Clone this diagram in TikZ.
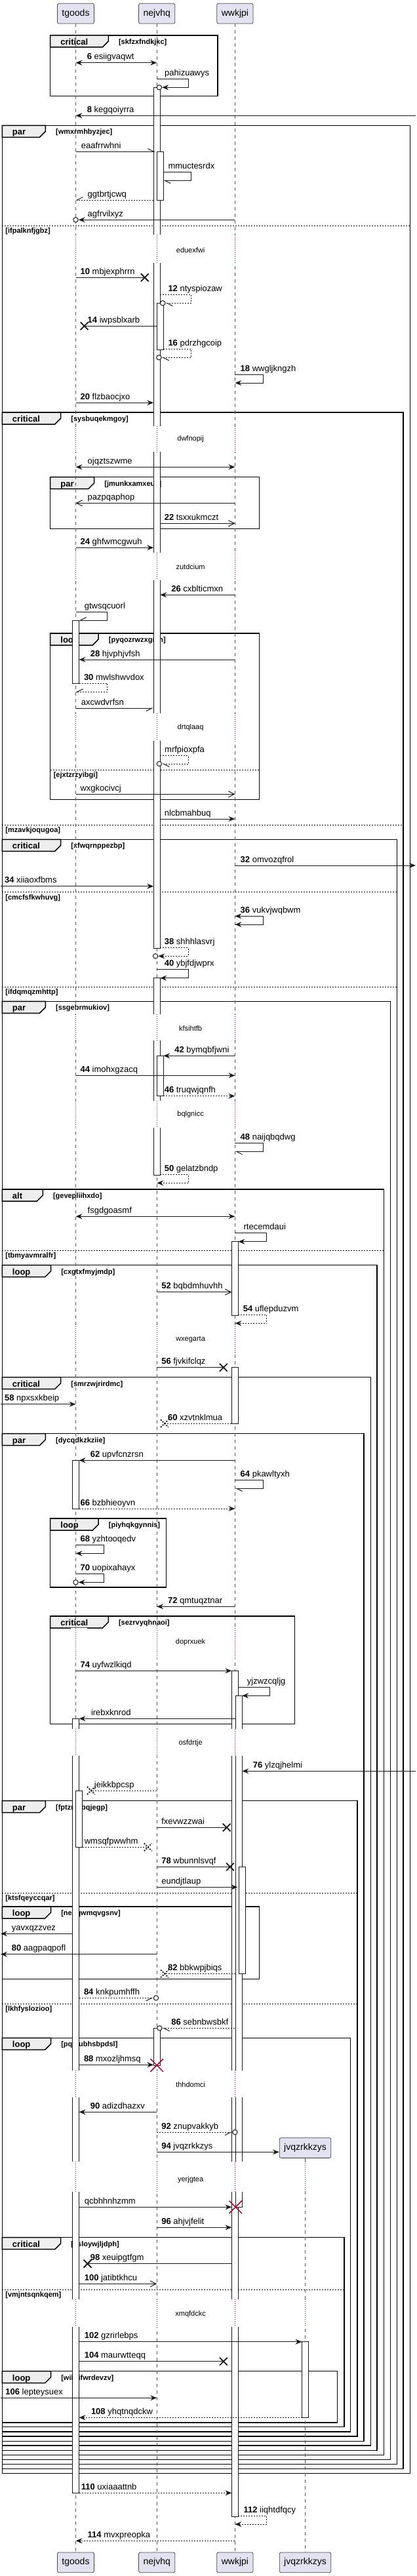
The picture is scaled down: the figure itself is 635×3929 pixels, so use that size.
\documentclass[tikz,border=0pt]{standalone}
\usepackage{fontspec}
\setmainfont{Liberation Sans}
\usetikzlibrary{arrows.meta,shapes.misc}

\definecolor{partfill}{HTML}{E2E2F0}
\definecolor{ink}{HTML}{181818}
\definecolor{tabfill}{HTML}{EEEEEE}
\definecolor{delayred}{HTML}{A80036}

\newcommand{\msgfont}{\fontsize{13}{15}\selectfont}
\newcommand{\partfont}{\fontsize{14}{16}\selectfont}
\newcommand{\condfont}{\fontsize{11}{13}\selectfont\bfseries}
\newcommand{\delayfont}{\fontsize{11}{13}\selectfont}

\tikzset{
  part/.style={draw=ink!80,fill=partfill,rounded corners=2.5pt,line width=0.8pt,minimum height=30.7pt,inner xsep=7pt,font=\partfont},
  life/.style={draw=ink!70,line width=0.6pt,dash pattern=on 5pt off 5pt},
  bar/.style={draw=ink,fill=white,line width=0.8pt},
  grp/.style={draw=black,line width=1.5pt},
  grptab/.style={draw=black,fill=tabfill,line width=1.5pt},
  tablbl/.style={anchor=base west,inner sep=0,font=\fontsize{13}{15}\selectfont\bfseries},
  cond/.style={anchor=base west,inner sep=0,font=\condfont},
  elseline/.style={draw=black,line width=0.8pt,dash pattern=on 2pt off 2pt},
  msg/.style={draw=ink,line width=1pt},
  sync/.style={msg,-{Stealth[length=10pt,width=8pt,inset=3.5pt]}},
  twoway/.style={msg,{Stealth[length=10pt,width=8pt,inset=3.5pt]}-{Stealth[length=10pt,width=8pt,inset=3.5pt]}},
  opena/.style={msg,-{Straight Barb[length=9pt,width=9pt]}},
  halfl/.style={msg,-{Straight Barb[left,length=9pt,width=9pt]}},
  halfr/.style={msg,-{Straight Barb[right,length=9pt,width=9pt]}},
  ret/.style={dash pattern=on 2pt off 2pt},
  lbl/.style={anchor=base west,inner sep=0,font=\msgfont},
  lost/.style={cross out,draw=ink,line width=1.8pt,minimum size=10pt,inner sep=0},
  kill/.style={cross out,draw=delayred,line width=1.5pt,minimum size=18pt,inner sep=0},
  circ/.style={circle,draw=ink,fill=white,line width=1pt,minimum size=7.4pt,inner sep=0},
  delayline/.style={draw=delayred,line width=0.8pt,dash pattern=on 1pt off 2pt},
  delaytxt/.style={font=\delayfont,inner sep=0}
}

\begin{document}
\begin{tikzpicture}[x=1pt,y=-1pt]
\useasboundingbox (0,0) rectangle (635,3929);
% participants
\node[part] (tg) at (115.5,20.7) {tgoods};
\node[part] (nj) at (239.2,20.7) {nejvhq};
\node[part] (ww) at (358.4,20.7) {wwkjpi};
\node[part] (jv) at (465.5,3276) {jvqzrkkzys};
\node[part] (tg2) at (115.5,3908.3) {tgoods};
\node[part] (nj2) at (239.2,3908.3) {nejvhq};
\node[part] (ww2) at (358.4,3908.3) {wwkjpi};
\node[part] (jv2) at (465.5,3908.3) {jvqzrkkzys};
\coordinate (lft) at (1,0);
\coordinate (rgt) at (634,0);

% groups
\draw[grp] (76.7,54) rectangle (331.8,146.7);
\draw[grptab] (76.7,54) -- (165.3,54) -- (165.3,63) -- (156.3,72) -- (76.7,72) -- cycle;
\node[tablbl] (f1a) at (92.2,68.5) {critical};
\node[cond] (f1b) at (180.8,67.5) {[skfzxfndkjkc]};

\draw[grp] (3.3,191.3) rectangle (625.3,3772.7);
\draw[grptab] (3.3,191.3) -- (69.4,191.3) -- (69.4,200.3) -- (60.4,209.3) -- (3.3,209.3) -- cycle;
\node[tablbl] (f2a) at (18.8,205.8) {par};
\node[cond] (f2b) at (84.9,204.8) {[wmxrmhbyzjec]};
\draw[elseline] (3.3,344.3) -- (625.3,344.3);
\node[cond] (f2c) at (8.2,355.8) {[ifpalknfjgbz]};

\draw[grp] (3.3,629) rectangle (615.1,3765.7);
\draw[grptab] (3.3,629) -- (92.7,629) -- (92.7,638) -- (83.7,647) -- (3.3,647) -- cycle;
\node[tablbl] (f3a) at (18.8,643.5) {critical};
\node[cond] (f3b) at (108.2,642.5) {[sysbuqekmgoy]};
\draw[elseline] (3.3,1258) -- (615.1,1258);
\node[cond] (f3c) at (8.2,1269.5) {[mzavkjoqugoa]};

\draw[grp] (76.7,727.7) rectangle (395.5,806.3);
\draw[grptab] (76.7,727.7) -- (143.7,727.7) -- (143.7,736.7) -- (134.7,745.7) -- (76.7,745.7) -- cycle;
\node[tablbl] (f4a) at (92.2,742.2) {par};
\node[cond] (f4b) at (159.2,741.2) {[jmunkxamxeus]};

\draw[grp] (76.7,966) rectangle (395.5,1219.3);
\draw[grptab] (76.7,966) -- (150.2,966) -- (150.2,975) -- (141.2,984) -- (76.7,984) -- cycle;
\node[tablbl] (f5a) at (92.2,980.5) {loop};
\node[cond] (f5b) at (165.7,979.5) {[pyqozrwzxgnm]};
\draw[elseline] (76.7,1174) -- (395.5,1174);
\node[cond] (f5c) at (81.6,1185.5) {[ejxtzrzyibgi]};

\draw[grp] (3.3,1280.3) rectangle (605.3,3758.3);
\draw[grptab] (3.3,1280.3) -- (92.7,1280.3) -- (92.7,1289.3) -- (83.7,1298.3) -- (3.3,1298.3) -- cycle;
\node[tablbl] (f6a) at (18.8,1294.8) {critical};
\node[cond] (f6b) at (108.2,1293.8) {[xfwqrnppezbp]};
\draw[elseline] (3.3,1360.7) -- (605.3,1360.7);
\node[cond] (f6c) at (8.2,1372.2) {[cmcfsfkwhuvg]};
\draw[elseline] (3.3,1505.3) -- (605.3,1505.3);
\node[cond] (f6d) at (8.2,1516.8) {[ifdqmqzmhttp]};

\draw[grp] (3.3,1527.3) rectangle (595.5,3751.3);
\draw[grptab] (3.3,1527.3) -- (69.4,1527.3) -- (69.4,1536.3) -- (60.4,1545.3) -- (3.3,1545.3) -- cycle;
\node[tablbl] (f7a) at (18.8,1541.8) {par};
\node[cond] (f7b) at (84.9,1540.8) {[ssgebrmukiov]};

\draw[grp] (3.3,1814) rectangle (585.7,3744.3);
\draw[grptab] (3.3,1814) -- (65.3,1814) -- (65.3,1823) -- (56.3,1832) -- (3.3,1832) -- cycle;
\node[tablbl] (f8a) at (18.8,1828.5) {alt};
\node[cond] (f8b) at (80.8,1827.5) {[gevepliihxdo]};
\draw[elseline] (3.3,1907.3) -- (585.7,1907.3);
\node[cond] (f8c) at (8.2,1918.8) {[tbmyavmralfr]};

\draw[grp] (3.3,1929.7) rectangle (575.1,3737.3);
\draw[grptab] (3.3,1929.7) -- (77.6,1929.7) -- (77.6,1938.7) -- (68.6,1947.7) -- (3.3,1947.7) -- cycle;
\node[tablbl] (f9a) at (18.8,1944.2) {loop};
\node[cond] (f9b) at (93.1,1943.2) {[cxgtxfmyjmdp]};

\draw[grp] (3.3,2100.7) rectangle (565.3,3730);
\draw[grptab] (3.3,2100.7) -- (92.7,2100.7) -- (92.7,2109.7) -- (83.7,2118.7) -- (3.3,2118.7) -- cycle;
\node[tablbl] (f10a) at (18.8,2115.2) {critical};
\node[cond] (f10b) at (108.2,2114.2) {[smrzwjrirdmc]};

\draw[grp] (3.3,2186.7) rectangle (555.1,3723.3);
\draw[grptab] (3.3,2186.7) -- (69.4,2186.7) -- (69.4,2195.7) -- (60.4,2204.7) -- (3.3,2204.7) -- cycle;
\node[tablbl] (f11a) at (18.8,2201.2) {par};
\node[cond] (f11b) at (84.9,2200.2) {[dycqdkzkziie]};

\draw[grp] (76.7,2316) rectangle (253.5,2421);
\draw[grptab] (76.7,2316) -- (150.2,2316) -- (150.2,2325) -- (141.2,2334) -- (76.7,2334) -- cycle;
\node[tablbl] (f12a) at (92.2,2330.5) {loop};
\node[cond] (f12b) at (165.7,2329.5) {[piyhqkgynnis]};

\draw[grp] (76.7,2465) rectangle (449.4,2629.3);
\draw[grptab] (76.7,2465) -- (165.3,2465) -- (165.3,2474) -- (156.3,2483) -- (76.7,2483) -- cycle;
\node[tablbl] (f13a) at (92.2,2479.5) {critical};
\node[cond] (f13b) at (180.8,2478.5) {[sezrvyqhnaoi]};

\draw[grp] (3.3,2746.7) rectangle (544.9,3716);
\draw[grptab] (3.3,2746.7) -- (69.4,2746.7) -- (69.4,2755.7) -- (60.4,2764.7) -- (3.3,2764.7) -- cycle;
\node[tablbl] (f14a) at (18.8,2761.2) {par};
\node[cond] (f14b) at (84.9,2760.2) {[fptzmybqjegp]};
\draw[elseline] (3.3,2887.3) -- (544.9,2887.3);
\node[cond] (f14c) at (8.2,2898.8) {[ktsfqeyccqar]};
\draw[elseline] (3.3,3056.3) -- (544.9,3056.3);
\node[cond] (f14d) at (8.2,3067.8) {[lkhfyslozioo]};

\draw[grp] (3.3,2908) rectangle (395.5,3018.3);
\draw[grptab] (3.3,2908) -- (77.6,2908) -- (77.6,2917) -- (68.6,2926) -- (3.3,2926) -- cycle;
\node[tablbl] (f15a) at (18.8,2922.5) {loop};
\node[cond] (f15b) at (93.1,2921.5) {[nedqwmqvgsnv]};

\draw[grp] (3.3,3108.3) rectangle (534.7,3709);
\draw[grptab] (3.3,3108.3) -- (77.6,3108.3) -- (77.6,3117.3) -- (68.6,3126.3) -- (3.3,3126.3) -- cycle;
\node[tablbl] (f16a) at (18.8,3122.8) {loop};
\node[cond] (f16b) at (93.1,3121.8) {[pqmubhsbpdsl]};

\draw[grp] (3.3,3412.7) rectangle (524.9,3701.7);
\draw[grptab] (3.3,3412.7) -- (92.7,3412.7) -- (92.7,3421.7) -- (83.7,3430.7) -- (3.3,3430.7) -- cycle;
\node[tablbl] (f17a) at (18.8,3427.2) {critical};
\node[cond] (f17b) at (108.2,3426.2) {[xsloywjljdph]};
\draw[elseline] (3.3,3492.3) -- (524.9,3492.3);
\node[cond] (f17c) at (8.2,3503.8) {[vmjntsqnkqem]};

\draw[grp] (3.3,3616.7) rectangle (514.7,3695);
\draw[grptab] (3.3,3616.7) -- (77.6,3616.7) -- (77.6,3625.7) -- (68.6,3634.7) -- (3.3,3634.7) -- cycle;
\node[tablbl] (f18a) at (18.8,3631.2) {loop};
\node[cond] (f18b) at (93.1,3630.2) {[wihrifwrdevzv]};

% lifelines
\draw[life] (tg) -- (tg2);
\draw[life] (nj) -- (nj2);
\draw[life] (ww) -- (ww2);
\draw[life] (jv) -- (jv2);

% activations
\draw[bar] ([xshift=-5pt]tg |- 0,946) rectangle ([xshift=5pt]tg |- 0,1042.7);
\draw[bar] ([xshift=-5pt]tg |- 0,2227.3) rectangle ([xshift=5pt]tg |- 0,2301);
\draw[bar] ([xshift=-5pt]tg |- 0,2621.3) rectangle ([xshift=5pt]tg |- 0,3802.3);
\draw[bar] (tg |- 0,2731) rectangle ([xshift=10pt]tg |- 0,2817.3);
\draw[bar] ([xshift=-5pt]nj |- 0,133.3) rectangle ([xshift=5pt]nj |- 0,1446.3);
\draw[bar] (nj |- 0,231.3) rectangle ([xshift=10pt]nj |- 0,305);
\draw[bar] (nj |- 0,462.3) rectangle ([xshift=10pt]nj |- 0,533);
\draw[bar] ([xshift=-5pt]nj |- 0,1491.7) rectangle ([xshift=5pt]nj |- 0,1792);
\draw[bar] (nj |- 0,1610.3) rectangle ([xshift=10pt]nj |- 0,1671);
\draw[bar] ([xshift=-5pt]nj |- 0,3093.3) rectangle ([xshift=5pt]nj |- 0,3150);
\draw[bar] ([xshift=-5pt]ww |- 0,1893.7) rectangle ([xshift=5pt]ww |- 0,2006);
\draw[bar] ([xshift=-5pt]ww |- 0,2085.7) rectangle ([xshift=5pt]ww |- 0,2171);
\draw[bar] ([xshift=-5pt]ww |- 0,2548.3) rectangle ([xshift=5pt]ww |- 0,3838.3);
\draw[bar] ([xshift=0.8pt]ww |- 0,2586.3) rectangle ([xshift=10.8pt]ww |- 0,3366.3);
\draw[bar] ([xshift=5.7pt]ww |- 0,2847.3) rectangle ([xshift=15.9pt]ww |- 0,3010.3);
\draw[bar] ([xshift=-5pt]jv |- 0,3571.7) rectangle ([xshift=5pt]jv |- 0,3687.3);

% delays
\foreach \ya/\yb/\yt/\txt [count=\i] in {358/401/381.7/eduexfwi, 650/689.3/669.3/dwfnopij,
    843.3/885/865/zutdcium, 1088.3/1130/1110/drtqlaaq, 1546.7/1586.7/1568.3/kfsihtfb,
    1679.3/1720/1700/bqlgnicc, 2020/2063.3/2043.3/wxegarta, 2483.3/2530/2505/doprxuek,
    2636.7/2678.3/2658.3/osfdrtje, 3158.3/3199.3/3179.3/thhdomci}{
  \foreach \p in {tg,nj,ww}{
    \fill[white] ([xshift=-8pt]\p |- 0,\ya) rectangle ([xshift=17pt]\p |- 0,\yb);
    \draw[delayline] (\p |- 0,\ya) -- (\p |- 0,\yb);
  }
  \node[delaytxt] (d\i) at (290.6,\yt) {\txt};
}
\foreach \ya/\yb/\yt/\txt [count=\i] in {3297/3343.3/3324.3/yerjgtea, 3507.3/3549/3529.3/xmqfdckc}{
  \foreach \p in {tg,nj,ww,jv}{
    \fill[white] ([xshift=-8pt]\p |- 0,\ya) rectangle ([xshift=17pt]\p |- 0,\yb);
    \draw[delayline] (\p |- 0,\ya) -- (\p |- 0,\yb);
  }
  \node[delaytxt] (e\i) at (290.6,\yt) {\txt};
}

% messages
\draw[twoway] (tg |- 0,95.7) -- (nj |- 0,95.7);
\node[lbl] (m6) at (132.7,90.7) {\textbf{6} esiigvaqwt};
\node[circ] (c7) at (242.9,133.3) {};
\draw[sync] (nj |- 0,120.7) -- (287,120.7) |- (c7.east);
\node[lbl] (m7) at (251,115.7) {pahizuawys};
\draw[sync] (rgt |- 0,176.3) -- (tg |- 0,176.3);
\node[lbl] (m8) at (132.7,171.3) {\textbf{8} kegqoiyrra};
\draw[halfl] (tg |- 0,231.3) -- ([xshift=-2.5pt]nj |- 0,231.3);
\node[lbl] (m9a) at (123.7,226.3) {eaafrrwhni};
\draw[halfl] ([xshift=10pt]nj |- 0,262.3) -- (291.8,262.3) |- ([xshift=10pt]nj |- 0,275.3);
\node[lbl] (m9b) at (256.3,257.3) {mmuctesrdx};
\draw[halfr,ret] ([xshift=-5pt]nj |- 0,305) -- (tg |- 0,305);
\node[lbl] (m9c) at (133.5,300) {ggtbrtjcwq};
\node[circ] (c9) at (tg |- 0,335.3) {};
\draw[sync] (ww |- 0,335.3) -- (c9.east);
\node[lbl] (m9d) at (133.5,330.3) {agfrvilxyz};

\draw[msg] (tg |- 0,423.3) -- (220.8,423.3) node[lost] (x10) {};
\node[lbl] (m10) at (122.4,418.3) {\textbf{10} mbjexphrrn};
\node[circ] (c12) at (248.2,462.3) {};
\draw[halfl,ret] ([xshift=5pt]nj |- 0,449.3) -- (291.8,449.3) |- (c12.east);
\node[lbl] (m12) at (256.3,444.3) {\textbf{12} ntyspiozaw};
\draw[msg] (nj |- 0,497.3) -- (128.6,497.3) node[lost] (x14) {};
\node[lbl] (m14) at (133.5,492.3) {\textbf{14} iwpsblxarb};
\node[circ] (c16) at (242.4,545.3) {};
\draw[halfl,ret] ([xshift=10pt]nj |- 0,532.3) -- (291.8,532.3) |- (c16.east);
\node[lbl] (m16) at (256.3,527.3) {\textbf{16} pdrzhgcoip};
\draw[sync] (ww |- 0,571.3) -- (401.6,571.3) |- (ww |- 0,584);
\node[lbl] (m18) at (366.5,566.3) {\textbf{18} wwgljkngzh};
\draw[sync] (tg |- 0,614.3) -- ([xshift=-5pt]nj |- 0,614.3);
\node[lbl] (m20) at (122.4,609.3) {\textbf{20} flzbaocjxo};

\draw[twoway] (tg |- 0,712.3) -- (ww |- 0,712.3);
\node[lbl] (m21a) at (133.5,707.3) {ojqztszwme};
\draw[opena] (ww |- 0,767.3) -- (tg |- 0,767.3);
\node[lbl] (m21b) at (133.5,762.3) {pazpqaphop};
\draw[opena] ([xshift=5pt]nj |- 0,798.3) -- (ww |- 0,798.3);
\node[lbl] (m22) at (250.6,793.3) {\textbf{22} tsxxukmczt};
\draw[sync] (tg |- 0,835.3) -- ([xshift=-5pt]nj |- 0,835.3);
\node[lbl] (m24) at (122.4,830.3) {\textbf{24} ghfwmcgwuh};
\draw[sync] (ww |- 0,907.3) -- ([xshift=5pt]nj |- 0,907.3);
\node[lbl] (m26) at (261.2,902.3) {\textbf{26} cxblticmxn};
\draw[halfr] (tg |- 0,933.3) -- (163.7,933.3) |- ([xshift=5pt]tg |- 0,946);
\node[lbl] (m27) at (128.6,928.3) {gtwsqcuorl};
\draw[sync] (ww |- 0,1006) -- ([xshift=5pt]tg |- 0,1006);
\node[lbl] (m28) at (137.6,1001) {\textbf{28} hjvphjvfsh};
\draw[halfr,ret] ([xshift=5pt]tg |- 0,1042.3) -- (163.7,1042.3) |- (tg |- 0,1055.3);
\node[lbl] (m30) at (127.8,1037.3) {\textbf{30} mwlshwvdox};
\draw[halfr] (tg |- 0,1080) -- ([xshift=-5pt]nj |- 0,1080);
\node[lbl] (m31a) at (123.7,1075) {axcwdvrfsn};
\node[circ] (c31) at (242.9,1165) {};
\draw[halfl,ret] ([xshift=5pt]nj |- 0,1152.3) -- (287,1152.3) |- (c31.east);
\node[lbl] (m31b) at (251,1147.3) {mrfpioxpfa};
\draw[opena] (tg |- 0,1211.3) -- (ww |- 0,1211.3);
\node[lbl] (m31c) at (122.4,1206.3) {wxgkocivcj};
\draw[sync] ([xshift=5pt]nj |- 0,1249) -- (ww |- 0,1249);
\node[lbl] (m31d) at (250.6,1244) {nlcbmahbuq};

\draw[sync] (ww |- 0,1320) -- (rgt |- 0,1320);
\node[lbl] (m32) at (366.5,1315) {\textbf{32} omvozqfrol};
\draw[sync] (lft |- 0,1351.7) -- ([xshift=-5pt]nj |- 0,1351.7);
\node[lbl] (m34) at (6.9,1346.7) {\textbf{34} xiiaoxfbms};
\draw[twoway] (ww |- 0,1397.3) -- (401.6,1397.3) |- (ww |- 0,1410);
\node[lbl] (m36) at (366.5,1392.3) {\textbf{36} vukvjwqbwm};
\node[circ] (c38) at (237.1,1458.3) {};
\draw[sync,ret] ([xshift=5pt]nj |- 0,1445.7) -- (287,1445.7) |- (c38.east);
\node[lbl] (m38) at (250.6,1440.7) {\textbf{38} shhhlasvrj};
\draw[sync] (nj |- 0,1478.7) -- (287,1478.7) |- ([xshift=5pt]nj |- 0,1491.7);
\node[lbl] (m40) at (250.6,1473.7) {\textbf{40} ybjfdjwprx};
\draw[sync] (ww |- 0,1610.3) -- ([xshift=10pt]nj |- 0,1610.3);
\node[lbl] (m42) at (266.1,1605.3) {\textbf{42} bymqbfjwni};
\draw[sync] (tg |- 0,1640.3) -- (ww |- 0,1640.3);
\node[lbl] (m44) at (122.4,1635.3) {\textbf{44} imohxgzacq};
\draw[sync,ret] ([xshift=10pt]nj |- 0,1671.7) -- (ww |- 0,1671.7);
\node[lbl] (m46) at (250.6,1666.7) {\textbf{46} truqwjqnfh};
\draw[halfl] (ww |- 0,1743.7) -- (401.6,1743.7) |- (ww |- 0,1756.3);
\node[lbl] (m48) at (366.5,1738.7) {\textbf{48} naijqbqdwg};
\draw[sync,ret] ([xshift=5pt]nj |- 0,1791.3) -- (287,1791.3) |- (nj |- 0,1804.3);
\node[lbl] (m50) at (250.6,1786.3) {\textbf{50} gelatzbndp};

\draw[twoway] (tg |- 0,1855.3) -- (ww |- 0,1855.3);
\node[lbl] (m51a) at (133.5,1850.3) {fsgdgoasmf};
\draw[sync] (ww |- 0,1880.7) -- (406.9,1880.7) |- ([xshift=5pt]ww |- 0,1893.7);
\node[lbl] (m51b) at (371.4,1875.7) {rtecemdaui};
\draw[opena] (nj |- 0,1970.7) -- ([xshift=-5pt]ww |- 0,1970.7);
\node[lbl] (m52) at (246.1,1965.7) {\textbf{52} bqbdmhuvhh};
\draw[sync,ret] ([xshift=5pt]ww |- 0,2005) -- (406.9,2005) |- (ww |- 0,2018.3);
\node[lbl] (m54) at (370.6,2000) {\textbf{54} uflepduzvm};
\draw[msg] (nj |- 0,2085.7) -- (340.8,2085.7) node[lost] (x56) {};
\node[lbl] (m56) at (246.1,2080.7) {\textbf{56} fjvkifclqz};
\draw[sync] (lft |- 0,2141.7) -- (tg |- 0,2141.7);
\node[lbl] (m58) at (6.9,2136.7) {\textbf{58} npxsxkbeip};
\draw[msg,ret] ([xshift=-5pt]ww |- 0,2171) -- (251,2171) node[lost] (x60) {};
\node[lbl] (m60) at (255.9,2166) {\textbf{60} xzvtnklmua};
\draw[sync] (ww |- 0,2227.3) -- ([xshift=5pt]tg |- 0,2227.3);
\node[lbl] (m62) at (137.6,2222.3) {\textbf{62} upvfcnzrsn};
\draw[halfl] (ww |- 0,2257.3) -- (401.6,2257.3) |- (ww |- 0,2270);
\node[lbl] (m64) at (366.5,2252.3) {\textbf{64} pkawltyxh};
\draw[sync,ret] ([xshift=5pt]tg |- 0,2301) -- (ww |- 0,2301);
\node[lbl] (m66) at (122.4,2296) {\textbf{66} bzbhieoyvn};
\draw[sync] (tg |- 0,2356.7) -- (158.4,2356.7) |- (tg |- 0,2369.3);
\node[lbl] (m68) at (122.4,2351.7) {\textbf{68} yzhtooqedv};
\node[circ] (c70) at (tg |- 0,2413.3) {};
\draw[sync] (tg |- 0,2400.3) -- (158.4,2400.3) |- (c70.east);
\node[lbl] (m70) at (122.4,2395.3) {\textbf{70} uopixahayx};
\draw[sync] (ww |- 0,2450.3) -- (nj |- 0,2450.3);
\node[lbl] (m72) at (255.9,2445.3) {\textbf{72} qmtuqztnar};
\draw[sync] (tg |- 0,2548.3) -- ([xshift=-5pt]ww |- 0,2548.3);
\node[lbl] (m74) at (122.4,2543.3) {\textbf{74} uyfwzlkiqd};
\draw[sync] ([xshift=5pt]ww |- 0,2573.3) -- (411.4,2573.3) |- ([xshift=10.8pt]ww |- 0,2586.3);
\node[lbl] (m75a) at (376.7,2568.3) {yjzwzcqljg};
\draw[sync] ([xshift=0.8pt]ww |- 0,2621.3) -- ([xshift=5pt]tg |- 0,2621.3);
\node[lbl] (m75b) at (138.8,2616.3) {irebxknrod};

\draw[sync] (rgt |- 0,2701.3) -- ([xshift=11pt]ww |- 0,2701.3);
\node[lbl] (m76) at (385.7,2696.3) {\textbf{76} ylzqjhelmi};
\draw[msg,ret] (nj |- 0,2731) -- (138.8,2731) node[lost] (x77a) {};
\node[lbl] (m77a) at (143.7,2726) {jeikkbpcsp};
\draw[msg] (nj |- 0,2787.3) -- (345.7,2787.3) node[lost] (x77b) {};
\node[lbl] (m77b) at (246.1,2782.3) {fxevwzzwai};
\draw[msg,ret] ([xshift=10pt]tg |- 0,2817.3) -- (225.7,2817.3) node[lost] (x77c) {};
\node[lbl] (m77c) at (128.6,2812.3) {wmsqfpwwhm};
\draw[msg] (nj |- 0,2847.3) -- (351,2847.3) node[lost] (x78) {};
\node[lbl] (m78) at (246.1,2842.3) {\textbf{78} wbunnlsvqf};
\draw[sync] (nj |- 0,2878.3) -- (362.4,2878.3);
\node[lbl] (m79a) at (246.1,2873.3) {eundjtlaup};
\draw[sync] ([xshift=-5pt]tg |- 0,2949.3) -- (lft |- 0,2949.3);
\node[lbl] (m79b) at (17.6,2944.3) {yavxqzzvez};
\draw[sync] (nj |- 0,2980.7) -- (lft |- 0,2980.7);
\node[lbl] (m80) at (17.6,2975.7) {\textbf{80} aagpaqpofl};
\draw[msg,ret] ([xshift=0.8pt]ww |- 0,3010.3) -- (251,3010.3) node[lost] (x82) {};
\node[lbl] (m82) at (255.9,3005.3) {\textbf{82} bbkwpjbiqs};
\node[circ] (c84) at (238,3047.3) {};
\draw[halfr,ret] ([xshift=5pt]tg |- 0,3047.3) -- (c84.west);
\node[lbl] (m84) at (127.8,3042.3) {\textbf{84} knkpumhffh};
\node[circ] (c86) at (243.3,3093.3) {};
\draw[halfl,ret] (ww |- 0,3093.3) -- (c86.east);
\node[lbl] (m86) at (261.2,3088.3) {\textbf{86} sebnbwsbkf};
\draw[sync] ([xshift=5pt]tg |- 0,3149.3) -- ([xshift=-5pt]nj |- 0,3149.3);
\node[kill] (k88) at (nj |- 0,3150) {};
\node[lbl] (m88) at (127.8,3144.3) {\textbf{88} mxozljhmsq};
\draw[sync] (nj |- 0,3221.3) -- ([xshift=5pt]tg |- 0,3221.3);
\node[lbl] (m90) at (137.6,3216.3) {\textbf{90} adizdhazxv};
\node[circ] (c92) at (ww |- 0,3252) {};
\draw[halfr,ret] (nj |- 0,3252) -- (c92.west);
\node[lbl] (m92) at (246.1,3247) {\textbf{92} znupvakkyb};
\draw[sync] (nj |- 0,3282.3) -- (jv.west |- 0,3282.3);
\node[lbl] (m94) at (246.1,3277.3) {\textbf{94} jvqzrkkzys};

\draw[sync] ([xshift=5pt]tg |- 0,3366.3) -- ([xshift=-5pt]ww |- 0,3366.3);
\node[kill] (k95) at ([xshift=0.8pt]ww |- 0,3366.3) {};
\node[lbl] (m95) at (128.6,3361.3) {qcbhhnhzmm};
\draw[sync] (nj |- 0,3397.3) -- ([xshift=-5pt]ww |- 0,3397.3);
\node[lbl] (m96) at (246.1,3392.3) {\textbf{96} ahjvjfelit};
\draw[msg] ([xshift=-5pt]ww |- 0,3452.7) -- (133.5,3452.7) node[lost] (x98) {};
\node[lbl] (m98) at (137.6,3447.7) {\textbf{98} xeuipgtfgm};
\draw[opena] ([xshift=5pt]tg |- 0,3483.3) -- (nj |- 0,3483.3);
\node[lbl] (m100) at (128.6,3478.3) {\textbf{100} jatibtkhcu};
\draw[sync] ([xshift=5pt]tg |- 0,3571.7) -- ([xshift=-5pt]jv |- 0,3571.7);
\node[lbl] (m102) at (128.6,3566.7) {\textbf{102} gzrirlebps};
\draw[msg] ([xshift=5pt]tg |- 0,3601.7) -- (340.8,3601.7) node[lost] (x104) {};
\node[lbl] (m104) at (128.6,3596.7) {\textbf{104} maurwtteqq};
\draw[sync] (lft |- 0,3657.3) -- (nj |- 0,3657.3);
\node[lbl] (m106) at (8.2,3652.3) {\textbf{106} lepteysuex};
\draw[sync,ret] ([xshift=-5pt]jv |- 0,3687.3) -- ([xshift=5pt]tg |- 0,3687.3);
\node[lbl] (m108) at (138.8,3682.3) {\textbf{108} yhqtnqdckw};
\draw[sync,ret] ([xshift=5pt]tg |- 0,3802.3) -- ([xshift=-5pt]ww |- 0,3802.3);
\node[lbl] (m110) at (123.7,3797.3) {\textbf{110} uxiaaattnb};
\draw[sync,ret] ([xshift=5pt]ww |- 0,3837.3) -- (406.9,3837.3) |- (ww |- 0,3850);
\node[lbl] (m112) at (371.4,3832.3) {\textbf{112} iiqhtdfqcy};
\draw[sync,ret] (ww |- 0,3875.3) -- (tg |- 0,3875.3);
\node[lbl] (m114) at (133.5,3870.3) {\textbf{114} mvxpreopka};
\end{tikzpicture}
\end{document}
